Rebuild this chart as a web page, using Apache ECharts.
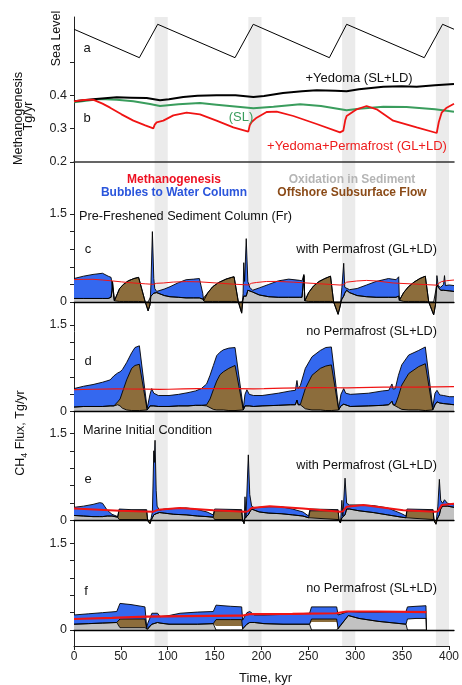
<!DOCTYPE html>
<html><head><meta charset="utf-8">
<script src="https://cdn.jsdelivr.net/npm/echarts@6/dist/echarts.min.js"></script>
<style>html,body{margin:0;padding:0;background:#fff}#c{width:462px;height:685px}</style>
</head><body><div id="c"></div>
<script>
// ---------- DATA ----------
const bandStart = [86, 186, 286, 386];
const bandEnd   = [100, 200, 300, 400];
const xTicks = [0, 50, 100, 150, 200, 250, 300, 350, 400];

// (a) sea level
const seaTime  = [0, 68.8, 88.1, 169.5, 188.7, 268.8, 287, 368.7, 388, 400];
const seaLevel = [-17.8, -120, 0, -120, 0, -120, 0, -120, 0, -17.8];

// (b) methanogenesis, Tg/yr
const methTimeYP = [0,10,20,30,38,50,62.5,75,83.5,85,87,94,104.6,118.6,132.6,150,167.7,183.5,185,187,192.3,202.8,213.4,230.9,255.4,280,283.5,285.5,287,297.6,308,318.6,336,360.7,381.8,384,387,392.3,400];
const methYP     = [.382,.386,.387,.375,.363,.343,.324,.31,.301,.312,.319,.324,.34,.348,.343,.324,.304,.291,.31,.32,.333,.35,.351,.338,.314,.289,.294,.325,.338,.358,.368,.358,.324,.304,.287,.32,.348,.363,.375];
const methTimeY  = [0,20,45,60,76.5,90.5,100,115,130,150,170,188.8,200,220,240,255.4,275,287,300,325.6,345,360.7,380,400];
const methY      = [.382,.388,.394,.393,.392,.385,.388,.395,.399,.40,.40,.395,.398,.407,.412,.415,.414,.412,.418,.426,.427,.426,.43,.434];
const methTimeSL = [0,27.4,45,62.5,80,90.5,110,132.6,150,175,188.8,210,238,260,287,300,325.6,350,380,400];
const methSL     = [.379,.389,.387,.382,.374,.368,.373,.377,.372,.365,.361,.366,.373,.368,.355,.36,.366,.365,.358,.351];

// (c) pre-freshened, with permafrost
const cTime = [0,10,20,30,36,39,40,40.5,42.5,
  43,48,52,57,63,68,70,75,78,80,
  81,82.5,84,85,87,95,101,110,118,126,132,134,135.5,136.5,
  137,141,146,152,160,166,168.5,173,176.5,
  178,178.7,179.6,181.3,183,185,188,195,205,215,226,237,240,241,242,243,
  243.5,247,252,258,264,270,273.3,278,280.5,
  282,283.9,285,287,290,298,308,318,331,339,341.8,342.5,
  343,347,352,358,364,369.8,373.4,378.6,380.5,
  382,383.5,386,389,390,391,395,400];
const cOxid = [.06,.06,.06,.06,.06,.08,.2,.35,.02,
  .01,.01,.01,.01,.01,.01,.01,0,0,0,
  .1,.1,.15,.18,.16,.11,.09,.08,.07,.07,.07,.1,.05,.02,
  .01,.01,.01,.01,.01,.01,.01,0,0,
  .05,.1,.1,.1,.2,.22,.17,.12,.09,.08,.08,.08,.08,.1,.45,.02,
  .01,.01,.01,.01,.01,.01,0,0,0,
  .05,.1,.15,.2,.16,.11,.09,.08,.08,.08,.1,.03,
  .01,.01,.01,.01,.01,.01,0,0,0,
  .3,.25,.2,.2,.2,.2,.19,.18];
const cFlow = [0,0,0,0,0,0,0,0,0,
  .03,.22,.29,.35,.39,.41,.42,0,-.15,-.05,
  0,0,0,0,0,0,0,0,0,0,0,0,0,0,
  .02,.15,.25,.32,.38,.41,.42,0,-.19,
  0,0,0,0,0,0,0,0,0,0,0,0,0,0,0,0,
  .03,.15,.26,.34,.39,.43,0,-.21,-.05,
  0,0,0,0,0,0,0,0,0,0,0,0,
  .03,.15,.25,.33,.39,.43,0,-.22,-.05,
  0,0,0,0,0,0,0,0];
const cBubble = [.34,.38,.41,.43,.38,.34,.25,.05,0,
  0,0,0,0,0,0,0,0,0,0,
  .2,1.1,.25,.05,.02,.11,.17,.25,.31,.32,.33,.33,.1,0,
  0,0,0,0,0,0,0,0,0,
  .1,.57,.25,.98,.15,.03,.03,.12,.21,.28,.31,.29,.28,.26,.02,0,
  0,0,0,0,0,0,0,0,0,
  .2,.56,.1,.03,.05,.12,.2,.27,.32,.30,.33,0,
  0,0,0,0,0,0,0,0,0,
  .15,.02,.05,.1,.25,.08,.1,.1];

// (d) pre-freshened, no permafrost
const dTime = [0,10,20,30,38,40,42,
  43,46,48.5,51,55.4,60.7,64.2,68.8,70.2,77,
  80,81.8,84,88.8,100,110,120,128,134,136,
  139.6,143.2,146.7,150.2,153.7,157.2,163,169.5,178.2,
  180,182,184.5,189,198,215,228,233,234.7,236,
  238.2,243.5,250.5,259.3,265,270.9,278.6,
  281,283.9,286,290.9,310,325,331.3,334.7,336,
  338.2,341.5,345,352.3,362.8,369.8,377.6,
  380,382.1,385,389.1,395,400];
const dOxid = [.08,.09,.09,.09,.1,.1,.1,
  .1,.12,.1,.06,.03,.02,.02,.02,.02,.03,
  .1,.13,.1,.09,.09,.1,.1,.11,.11,.12,
  .1,.07,.04,.03,.03,.03,.02,.02,.03,
  .1,.13,.1,.09,.1,.11,.12,.12,.2,.12,
  .12,.05,.03,.03,.02,.02,.03,
  .1,.13,.1,.09,.1,.11,.12,.18,.12,
  .1,.07,.04,.03,.03,.02,.03,
  .12,.17,.15,.14,.13,.12];
const dFlow = [0,0,0,0,0,0,0,
  .02,.05,.12,.28,.52,.73,.78,.80,.78,0,
  0,0,0,0,0,0,0,0,0,0,
  .02,.15,.34,.5,.61,.66,.73,.78,0,
  0,0,0,0,0,0,0,0,0,0,
  0,.35,.6,.72,.77,.79,0,
  0,0,0,0,0,0,0,0,0,
  .02,.2,.42,.63,.75,.81,0,
  0,0,0,0,0,0];
const dBubble = [.32,.35,.38,.42,.45,.47,.52,
  .53,.5,.47,.39,.3,.27,.31,.32,.33,.03,
  .2,.27,.22,.19,.19,.2,.23,.25,.29,.31,
  .36,.41,.42,.44,.39,.38,.35,.31,.03,
  .2,.25,.2,.19,.18,.21,.24,.25,.34,.28,
  .33,.35,.32,.31,.32,.31,.03,
  .2,.27,.22,.21,.22,.25,.25,.3,.27,
  .28,.36,.35,.32,.28,.29,.05,
  .2,.2,.14,.14,.13,.14];

// (e) marine initial condition, with permafrost
const eTime = [0,10,20,27,30,35,40,46,
  47.5,60,76.5,77.5,80,
  82.5,84,84.5,85.3,86.5,87.5,90,95,105,118,130,140,146.5,
  148,176.5,177.5,179,
  180,181,183.5,185,187,190,195,205,218,230,241,247,
  248.4,278,279,280.5,
  282,283,285.3,287,290,300,315,330,345,349.5,
  350.5,378,379,381,
  383,384.6,386,388,390,393,400];
const eOxid = [.09,.08,.07,.07,.07,.08,.08,.06,
  .02,.02,.02,0,0,
  .05,.1,.1,.1,.12,.15,.14,.13,.11,.1,.08,.07,.06,
  .02,.02,0,0,
  .05,.03,.1,.15,.2,.18,.15,.13,.12,.1,.08,.05,
  .02,.02,0,0,
  .05,.03,.1,.2,.2,.17,.14,.1,.06,.05,
  .02,.02,0,0,
  .05,.1,.2,.25,.25,.25,.23];
const eFlow = [0,0,0,0,0,0,0,0,
  .16,.15,.15,0,-.05,
  0,0,0,0,0,0,0,0,0,0,0,0,0,
  .15,.15,0,-.05,
  0,0,0,0,0,0,0,0,0,0,0,0,
  .15,.15,0,-.04,
  0,0,0,0,0,0,0,0,0,0,
  .15,.15,0,-.06,
  0,0,0,0,0,0,0];
const eBubble = [.14,.17,.21,.24,.23,.1,.03,.01,
  .02,.02,.02,0,0,
  .1,1.1,.9,1.28,.4,.1,.04,.07,.1,.12,.11,.08,.04,
  .03,.02,0,0,
  .36,.02,1.03,.3,.05,.04,.08,.11,.12,.1,.07,.03,
  .03,.02,0,0,
  .3,.05,.63,.1,.07,.1,.12,.12,.06,.03,
  .03,.02,0,0,
  .2,.61,.15,.05,.11,.05,.04];
const eMethTime = [0,48,83.5,85,88.8,111.6,146.6,180,183,187,206,241,280,283,287,304.5,346.6,380,383,387,400];
const eMeth     = [.21,.17,.155,.16,.19,.22,.18,.155,.16,.22,.25,.21,.155,.16,.24,.27,.18,.155,.16,.27,.29];

// (f) marine initial condition, no permafrost
const fTime = [0,15,30,45,47,
  48.4,60,74.7,76.5,
  77.5,82,88,90.5,100,111.6,130,146.6,
  149.5,165,176.5,
  177.5,182,185,190,200,220,248,
  250,276.5,
  278,288.8,300,320,349.5,
  351,360,370.5,371];
const fOxid   = [.1,.11,.12,.13,.13, .04,.04,.04,.02, .01,.1,.13,.12,.1,.1,.1,.11, 0,0,0, .02,.1,.13,.13,.11,.1,.1, 0,0, .02,.25,.2,.15,.1, 0,0,0,0];
const fGap    = [0,0,0,0,0, 0,0,0,0, 0,0,0,0,0,0,0,0, .07,.07,.07, 0,0,0,0,0,0,0, .14,.14, 0,0,0,0,0, .19,.2,.2,0];
const fFlow   = [0,0,0,0,0, .15,.15,.15,0, 0,0,0,0,0,0,0,0, .11,.11,.11, 0,0,0,0,0,0,0, .05,.05, 0,0,0,0,0, 0,0,0,0];
const fBubble = [.16,.17,.18,.19,.19, .27,.25,.21,.03, .1,.19,.16,.11,.15,.19,.21,.21, .25,.23,.22, .15,.2,.19,.13,.15,.17,.19, .21,.21, .24,.07,.11,.16,.22, .21,.21,.22,0];
const fMethTime = [0,40,76,120,170,178,185,230,276,287,320,371];
const fMeth     = [.19,.21,.23,.24,.25,.25,.275,.28,.29,.32,.32,.31];

// ---------- STYLE ----------
const FONT = '"Liberation Sans", Arial, Helvetica, sans-serif';
const C_BLUE = '#3468ef', C_BROWN = '#8c6d3c', C_GREY = '#c2c2c2', C_RED = '#f01414', C_GREEN = '#3a9d5d';
const pairs = (t, v) => t.map((x, i) => [x, v[i]]);
// cumulative sum of several component arrays (layered flux bands)
const cum = (...arrs) => arrs[0].map((_, i) => arrs.reduce((s, a) => s + a[i], 0));

const chart = echarts.init(document.getElementById('c'), null, {width: 462, height: 685, renderer: 'canvas'});

const L = 74, R = 8;
const grids = [
  {left: L, right: R, top: 17, height: 629},
  {left: L, right: R, top: 17, height: 45},
  {left: L, right: R, top: 62, height: 100},
  {left: L, right: R, top: 214, height: 88},
  {left: L, right: R, top: 325, height: 86.7},
  {left: L, right: R, top: 433.3, height: 87.4},
  {left: L, right: R, top: 543.3, height: 86.7}
];

const xAxes = [
  {gridIndex: 0, type: 'value', min: 0, max: 400, interval: 50,
   axisLine: {show: true, onZero: false, lineStyle: {color: '#222', width: 1}},
   axisTick: {show: true, length: 4, lineStyle: {color: '#222'}},
   axisLabel: {fontSize: 12, color: '#222', margin: 5, fontFamily: FONT,
     alignMinLabel: 'center', alignMaxLabel: 'center', hideOverlap: false},
   splitLine: {show: false}},
  {gridIndex: 1, type: 'value', min: 0, max: 400, show: false},
  {gridIndex: 2, type: 'value', min: 0, max: 400, z: 3,
   axisLine: {show: true, onZero: false, lineStyle: {color: '#333', width: 1.5}},
   axisTick: {show: false}, axisLabel: {show: false}, splitLine: {show: false}}
];
for (let k = 3; k <= 6; k++) {
  xAxes.push({gridIndex: k, type: 'value', min: 0, max: 400, z: 5,
    axisLine: {show: true, onZero: true, lineStyle: {color: '#000', width: 1.3}},
    axisTick: {show: false}, axisLabel: {show: false}, splitLine: {show: false}});
}

const yTickStyle = {show: true, length: 4, lineStyle: {color: '#222'}};
const yAxes = [
  {gridIndex: 0, type: 'value', min: 0, max: 1,
   axisLine: {show: true, lineStyle: {color: '#222', width: 1}},
   axisTick: {show: false}, axisLabel: {show: false}, splitLine: {show: false}},
  {gridIndex: 1, type: 'value', min: -135.5, max: 26.2, show: false},
  {gridIndex: 2, type: 'value', min: 0.2, max: 0.5, interval: 0.1,
   axisLine: {show: false}, axisTick: yTickStyle, splitLine: {show: false},
   axisLabel: {fontSize: 12.5, color: '#222', margin: 7, fontFamily: FONT,
     formatter: v => (Math.abs(v - 0.5) < 1e-6 ? '' : v.toFixed(1))}}
];
for (let k = 3; k <= 6; k++) {
  yAxes.push({gridIndex: k, type: 'value', min: 0, max: 1.5, interval: 0.3,
    axisLine: {show: false}, axisTick: yTickStyle, splitLine: {show: false},
    axisLabel: {fontSize: 12.5, color: '#222', margin: 7, fontFamily: FONT,
      formatter: v => (Math.abs(v) < 1e-6 ? '0' : (Math.abs(v - 1.5) < 1e-6 ? '1.5' : ''))}});
}

function area(idx, time, vals, color, noLine) {
  return {type: 'line', xAxisIndex: idx, yAxisIndex: idx, data: pairs(time, vals),
    symbol: 'none', clip: false, z: 2,
    lineStyle: noLine ? {width: 0, opacity: 0} : {color: '#000', width: 0.9},
    areaStyle: {color: color, opacity: 1, origin: 0}};
}
function line(idx, time, vals, color, width, z) {
  return {type: 'line', xAxisIndex: idx, yAxisIndex: idx, data: pairs(time, vals),
    symbol: 'none', clip: false, z: z || 4, lineStyle: {color: color, width: width}};
}
// draw layered bands: total (blue) first, then flow top (brown), then oxidation (grey) on top
function panel(idx, time, oxid, flow, bubble, gap) {
  const g = gap || oxid.map(() => 0);
  const out = [
    area(idx, time, cum(oxid, g, flow, bubble), C_BLUE),
    area(idx, time, cum(oxid, g, flow), C_BROWN)
  ];
  if (gap) out.push(area(idx, time, cum(oxid, g), '#ffffff', true));
  out.push(area(idx, time, oxid, C_GREY));
  return out;
}

const series = [
  {type: 'line', xAxisIndex: 0, yAxisIndex: 0, data: [[0, 0]], symbol: 'none', z: 0,
   lineStyle: {opacity: 0}, silent: true,
   markArea: {silent: true, itemStyle: {color: '#ebebeb'},
     data: bandStart.map((s, i) => [{xAxis: s}, {xAxis: bandEnd[i]}])}},
  line(1, seaTime, seaLevel, '#000', 1),
  line(2, methTimeSL, methSL, C_GREEN, 2),
  line(2, methTimeY, methY, '#000', 2),
  line(2, methTimeYP, methYP, C_RED, 1.8),
  ...panel(3, cTime, cOxid, cFlow, cBubble),
  line(3, methTimeYP, methYP, C_RED, 1),
  ...panel(4, dTime, dOxid, dFlow, dBubble),
  line(4, methTimeY, methY, C_RED, 1.2),
  ...panel(5, eTime, eOxid, eFlow, eBubble),
  line(5, eMethTime, eMeth, C_RED, 2),
  ...panel(6, fTime, fOxid, fFlow, fBubble, fGap),
  line(6, fMethTime, fMeth, C_RED, 2.2)
];

function txt(text, x, y, o) {
  o = o || {};
  return {type: 'text', x: x, y: y, rotation: o.rot || 0, silent: true, z: 10,
    style: {text: text, fill: o.color || '#111',
      font: (o.weight || 'normal') + ' ' + (o.size || 12.7) + 'px ' + FONT,
      textAlign: o.align || 'center', textVerticalAlign: 'middle'}};
}
const ROT = Math.PI / 2;
const graphics = [
  txt('a', 87, 48, {size: 13}),
  txt('b', 87, 118, {size: 13}),
  txt('+Yedoma (SL+LD)', 359, 78, {size: 13}),
  txt('(SL)', 241, 117, {size: 13, color: C_GREEN}),
  txt('+Yedoma+Permafrost (GL+LD)', 357, 146, {size: 13, color: '#ee1c1c'}),
  txt('Methanogenesis', 174, 180, {size: 12, weight: 'bold', color: '#ee1122'}),
  txt('Bubbles to Water Column', 174, 193, {size: 12, weight: 'bold', color: '#2a55dc'}),
  txt('Oxidation in Sediment', 352, 180, {size: 12, weight: 'bold', color: '#b5b5b5'}),
  txt('Offshore Subsurface Flow', 352, 193, {size: 12, weight: 'bold', color: '#8b4b18'}),
  txt('Pre-Freshened Sediment Column (Fr)', 79, 216, {align: 'left'}),
  txt('c', 88, 249, {size: 13}),
  txt('with Permafrost (GL+LD)', 437, 249, {align: 'right'}),
  txt('no Permafrost (SL+LD)', 437, 331.7, {align: 'right'}),
  txt('d', 88, 361.7, {size: 13}),
  txt('Marine Initial Condition', 83, 430.7, {align: 'left'}),
  txt('with Permafrost (GL+LD)', 437, 465, {align: 'right'}),
  txt('e', 88, 479, {size: 13}),
  txt('no Permafrost (SL+LD)', 437, 588, {align: 'right'}),
  txt('f', 86, 591.7, {size: 13}),
  txt('Sea Level', 56.5, 38.5, {size: 12.5, rot: ROT}),
  txt('Methanogenesis', 18, 118.5, {size: 12.7, rot: ROT}),
  txt('Tg/yr', 28.7, 116, {size: 12.7, rot: ROT}),
  txt('Time, kyr', 265.5, 678, {size: 13}),
  {type: 'text', x: 21, y: 433, rotation: ROT, silent: true, z: 10,
   style: {text: '{a|CH}{s|4}{a| Flux, Tg/yr}', textAlign: 'center', textVerticalAlign: 'middle',
     rich: {a: {fontSize: 12.5, fontFamily: FONT, fill: '#111', lineHeight: 16},
            s: {fontSize: 9, fontFamily: FONT, fill: '#111', lineHeight: 9, verticalAlign: 'bottom'}}}}
];

chart.setOption({
  animation: false,
  backgroundColor: '#fff',
  textStyle: {fontFamily: FONT},
  grid: grids, xAxis: xAxes, yAxis: yAxes, series: series, graphic: graphics
});
</script></body></html>
